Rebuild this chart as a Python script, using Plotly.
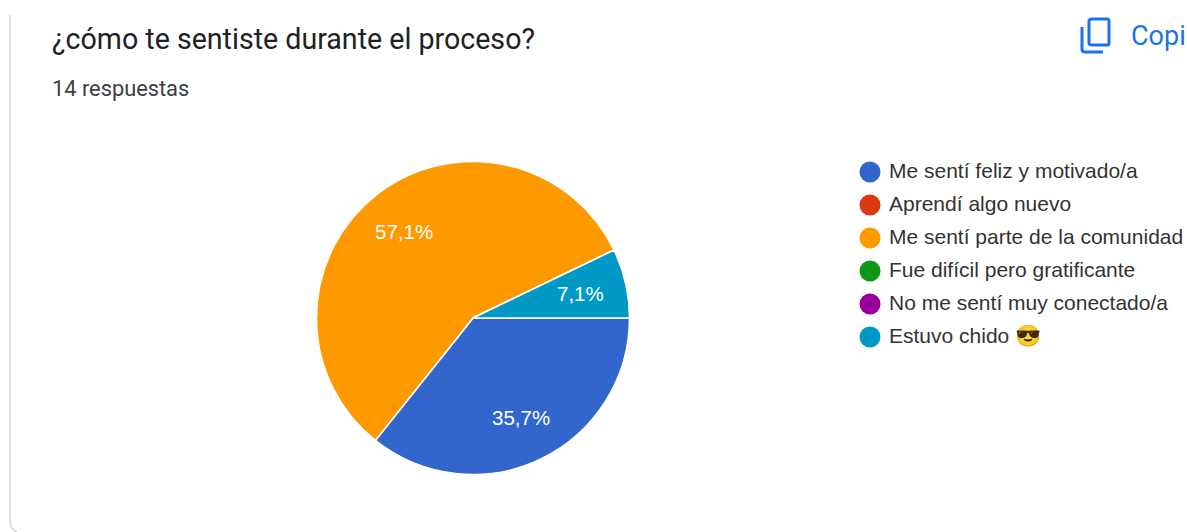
#!/usr/bin/env python3
"""
Google Forms 스타일 응답 파이 차트
"""
import math
import plotly.graph_objects as go

W, H = 1187, 532

title = '¿cómo te sentiste durante el proceso?'
subtitle = '14 respuestas'
copy_label = 'Copiar'

categories = [
    'Me sentí feliz y motivado/a',
    'Aprendí algo nuevo',
    'Me sentí parte de la comunidad',
    'Fue difícil pero gratificante',
    'No me sentí muy conectado/a',
    'Estuvo chido 😎',
]
counts = [5, 0, 8, 0, 0, 1]
colors = ['#3366cc', '#dc3912', '#ff9900', '#109618', '#990099', '#0099c6']

FONT = 'Roboto, Arial, sans-serif'
CHART_FONT = 'Liberation Sans, Arial, sans-serif'

# Pie geometry in pixels
cx, cy, radius = 473, 318, 156.5

fig = go.Figure()

fig.add_trace(go.Pie(
    labels=categories,
    values=counts,
    sort=False,
    direction='clockwise',
    rotation=90,
    marker=dict(colors=colors, line=dict(color='white', width=1.5)),
    textinfo='none',
    domain=dict(x=[(cx - radius) / W, (cx + radius) / W],
                y=[(H - cy - radius) / H, (H - cy + radius) / H]),
    showlegend=False,
    hoverinfo='label+percent',
))

# Percent labels sit further out than plotly puts them, so place them by mid angle
# (annotations, because pies are drawn over scatter text)
total = sum(counts)
running = 0
for c in counts:
    if c > 0:
        mid = math.radians((running + c / 2) / total * 360)
        fig.add_annotation(
            x=cx + 0.705 * radius * math.cos(mid),
            y=cy + 0.705 * radius * math.sin(mid),
            xref='x', yref='y',
            text=f'{c / total * 100:.1f}%'.replace('.', ','),
            showarrow=False,
            font=dict(family=CHART_FONT, size=20.5, color='white'),
        )
    running += c

# Legend drawn on a hidden pixel axis so the keys can be round
legend_y = [172 + i * 33 for i in range(len(categories))]
fig.add_trace(go.Scatter(
    x=[870] * len(categories),
    y=legend_y,
    mode='markers',
    marker=dict(size=21, color=colors),
    showlegend=False,
    hoverinfo='skip',
))
fig.add_trace(go.Scatter(
    x=[889] * len(categories),
    y=[y + 1 for y in legend_y],
    mode='text',
    text=categories,
    textposition='middle right',
    textfont=dict(family=CHART_FONT, size=21, color='#333333'),
    showlegend=False,
    hoverinfo='skip',
    cliponaxis=False,
))

# Card outline
fig.add_shape(type='path', path='M 10 15 L 10 520 Q 10 529 17 532',
              xref='x', yref='y', line=dict(color='#e0e0e0', width=2))

# Copy icon
fig.add_shape(type='path', path='M 1092 19 L 1107 19 Q 1109 19 1109 21 L 1109 43 Q 1109 45 1107 45 '
                                'L 1092 45 Q 1089 45 1089 43 L 1089 21 Q 1089 19 1092 19 Z',
              xref='x', yref='y', line=dict(color='#1a73e8', width=3))
fig.add_shape(type='path', path='M 1082 27 L 1082 49 Q 1082 52 1085 52 L 1103 52',
              xref='x', yref='y', line=dict(color='#1a73e8', width=3))

fig.add_annotation(x=50, y=39, xref='x', yref='y', text=title, showarrow=False, xanchor='left',
                   font=dict(family=FONT, size=28.6, color='#202124'))
fig.add_annotation(x=50, y=88, xref='x', yref='y', text=subtitle, showarrow=False, xanchor='left',
                   font=dict(family=FONT, size=21.8, color='#3c4043'))
fig.add_annotation(x=1129, y=36, xref='x', yref='y', text=copy_label, showarrow=False, xanchor='left',
                   font=dict(family=FONT, size=27, color='#1a73e8'))

fig.update_layout(
    width=W,
    height=H,
    margin=dict(l=0, r=0, t=0, b=0),
    paper_bgcolor='white',
    plot_bgcolor='rgba(0,0,0,0)',
    xaxis=dict(range=[0, W], visible=False, fixedrange=True),
    yaxis=dict(range=[H, 0], visible=False, fixedrange=True),
)

fig.write_html('out.html', config=dict(displayModeBar=False),
               post_script="document.body.style.margin='0';")
